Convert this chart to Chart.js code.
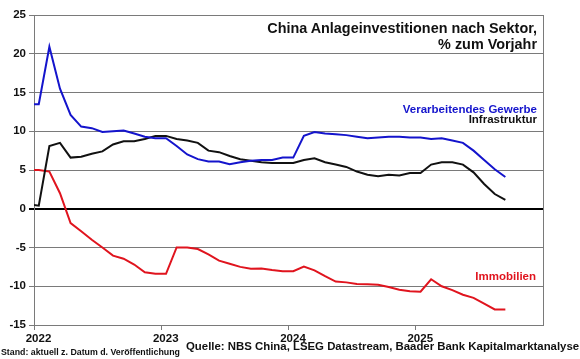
<!DOCTYPE html>
<html>
<head>
<meta charset="utf-8">
<script src="https://cdn.jsdelivr.net/npm/chart.js@4"></script>
<style>
  html, body { margin: 0; padding: 0; background: #fff; }
  #wrap { position: relative; width: 580px; height: 359px; overflow: hidden; font-family: Arial, "Liberation Sans", sans-serif; font-weight: bold; }
  canvas { position: absolute; left: 0; top: 0; }
  .t { position: absolute; white-space: nowrap; }
</style>
</head>
<body>
<div id="wrap">
  <canvas id="c" width="580" height="359"></canvas>
  <div class="t" style="right:43px; top:19.8px; font-size:14.4px; line-height:16px; text-align:right; color:#111;">China Anlageinvestitionen nach Sektor,<br>% zum Vorjahr</div>
  <div class="t" style="right:43px; top:103.8px; font-size:11.5px; line-height:11.5px; color:#1414cc;">Verarbeitendes Gewerbe</div>
  <div class="t" style="right:43px; top:113.8px; font-size:11.5px; line-height:11.5px; color:#111;">Infrastruktur</div>
  <div class="t" style="right:44px; top:271.3px; font-size:11.5px; line-height:11.5px; color:#e0141e;">Immobilien</div>
  <div class="t" style="left:1px; top:347.5px; font-size:8.8px; line-height:8.8px; color:#111;">Stand: aktuell z. Datum d. Veröffentlichung</div>
  <div class="t" style="left:186px; top:341.4px; font-size:11.4px; line-height:11.4px; color:#111;">Quelle: NBS China, LSEG Datastream, Baader Bank Kapitalmarktanalyse</div>
</div>
<script>
// Monthly observations (YTD growth, % y/y), Jan 2022 .. Sep 2025
const months = [
  '2022-01','2022-02','2022-03','2022-04','2022-05','2022-06','2022-07','2022-08','2022-09','2022-10','2022-11','2022-12',
  '2023-01','2023-02','2023-03','2023-04','2023-05','2023-06','2023-07','2023-08','2023-09','2023-10','2023-11','2023-12',
  '2024-01','2024-02','2024-03','2024-04','2024-05','2024-06','2024-07','2024-08','2024-09','2024-10','2024-11','2024-12',
  '2025-01','2025-02','2025-03','2025-04','2025-05','2025-06','2025-07','2025-08','2025-09'
];
const manufacturing = [
  13.5, 20.9, 15.5, 12.1, 10.6, 10.4, 9.9, 10.0, 10.1, 9.7, 9.3, 9.1,
  9.1, 8.1, 7.0, 6.4, 6.1, 6.1, 5.75, 6.0, 6.2, 6.3, 6.3, 6.6,
  6.6, 9.4, 9.9, 9.7, 9.6, 9.5, 9.3, 9.1, 9.2, 9.3, 9.3, 9.2,
  9.2, 9.0, 9.1, 8.8, 8.5, 7.5, 6.3, 5.1, 4.1
];
const infrastructure = [
  0.4, 8.1, 8.5, 6.6, 6.7, 7.1, 7.4, 8.3, 8.7, 8.7, 9.0, 9.4,
  9.4, 9.0, 8.8, 8.5, 7.5, 7.3, 6.8, 6.4, 6.2, 6.0, 5.9, 5.9,
  5.9, 6.3, 6.5, 6.0, 5.7, 5.4, 4.8, 4.4, 4.2, 4.4, 4.3, 4.6,
  4.6, 5.7, 6.0, 6.0, 5.7, 4.7, 3.2, 1.9, 1.15
];
const realEstate = [
  5.0, 4.8, 2.0, -1.85, -2.9, -4.0, -5.0, -6.05, -6.45, -7.2, -8.2, -8.4,
  -8.4, -5.0, -5.0, -5.2, -5.9, -6.7, -7.1, -7.5, -7.75, -7.7, -7.9, -8.05,
  -8.05, -7.45, -7.95, -8.7, -9.4, -9.5, -9.7, -9.75, -9.8, -10.1, -10.45, -10.65,
  -10.7, -9.1, -10.0, -10.5, -11.1, -11.5, -12.25, -13.0, -13.0
];
const startValues = { manufacturing: 13.5, infrastructure: 0.5, realEstate: 5.0 }; // value at 1 Jan 2022
const yearTicks = [2022, 2023, 2024, 2025];
const firstYear = 2022;

// position of a month on the axis (months since Jan 2022, observation dated mid-month)
function monthPos(m) {
  const [y, mo] = m.split('-').map(Number);
  return (y - firstYear) * 12 + (mo - 1) + 0.45;
}
function series(start, vals) {
  return [{ x: 0, y: start }].concat(vals.map((v, i) => ({ x: monthPos(months[i]), y: v })));
}

const frame = {
  id: 'frame',
  afterDatasetsDraw(chart) {
    const a = chart.chartArea, ctx = chart.ctx;
    ctx.save();
    ctx.strokeStyle = '#7a7a7a';
    ctx.lineWidth = 1;
    ctx.beginPath();
    ctx.moveTo(Math.round(a.right) + 0.5, a.top);
    ctx.lineTo(Math.round(a.right) + 0.5, a.bottom);
    ctx.stroke();
    ctx.restore();
  }
};

new Chart(document.getElementById('c'), {
  type: 'line',
  data: {
    datasets: [
      { label: 'Verarbeitendes Gewerbe', data: series(startValues.manufacturing, manufacturing), borderColor: '#1414cc' },
      { label: 'Infrastruktur', data: series(startValues.infrastructure, infrastructure), borderColor: '#111111' },
      { label: 'Immobilien', data: series(startValues.realEstate, realEstate), borderColor: '#e0141e' }
    ]
  },
  options: {
    responsive: false,
    animation: false,
    devicePixelRatio: 1,
    layout: { padding: { left: 0, right: 37, top: 15, bottom: 0 } },
    elements: { line: { borderWidth: 2, tension: 0 }, point: { radius: 0 } },
    plugins: { legend: { display: false }, tooltip: { enabled: false } },
    scales: {
      x: {
        type: 'linear', min: 0, max: 48,
        afterBuildTicks: s => { s.ticks = yearTicks.map(y => ({ value: (y - firstYear) * 12 })); },
        afterFit: s => { s.height = 34; },
        ticks: {
          callback: v => String(firstYear + Math.round(v / 12)),
          color: '#111', font: { family: 'Arial, "Liberation Sans"', size: 11.5, weight: 'bold' },
          padding: 2, labelOffset: 4.5, maxRotation: 0, autoSkip: false
        },
        grid: { drawOnChartArea: false, drawTicks: true, tickLength: 5, color: '#7a7a7a' },
        border: { color: '#7a7a7a', width: 1 }
      },
      y: {
        min: -15, max: 25,
        afterFit: s => { s.width = 34; },
        ticks: {
          stepSize: 5, color: '#111',
          font: { family: 'Arial, "Liberation Sans"', size: 11.5, weight: 'bold' }, padding: 3
        },
        grid: {
          color: c => c.tick && c.tick.value === 0 ? '#000' : '#7a7a7a',
          lineWidth: c => c.tick && c.tick.value === 0 ? 2 : 1,
          tickLength: 5
        },
        border: { color: '#7a7a7a', width: 1 }
      }
    }
  },
  plugins: [frame]
});
</script>
</body>
</html>
